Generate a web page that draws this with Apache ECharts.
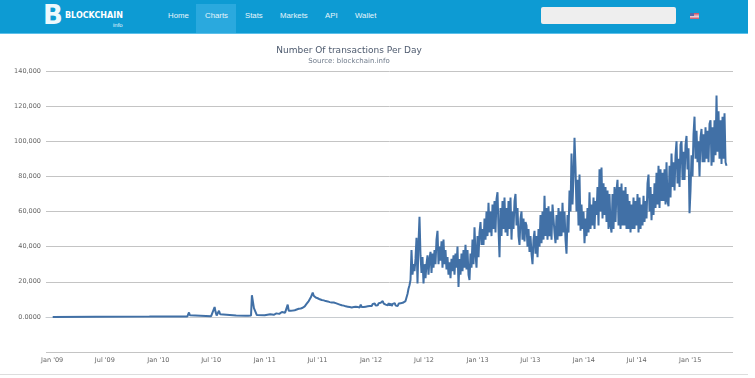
<!DOCTYPE html>
<html>
<head>
<meta charset="utf-8">
<title>Number Of transactions Per Day</title>
<script src="https://cdn.jsdelivr.net/npm/echarts@6/dist/echarts.min.js"></script>
<style>
  html, body { margin: 0; padding: 0; background: #fff; overflow: hidden; }
  #nav { position: absolute; left: 0; top: 0; width: 748px; height: 33px; background: #0d9bd3; border-bottom: 1px solid #5cc0ea; font-family: "Liberation Sans", Arial, sans-serif; color: #e8f5fb; font-size: 7.8px; z-index: 2; }
  #nav span { position: absolute; top: 11px; line-height: 10px; }
  #nav .active { position: absolute; left: 196px; top: 4px; width: 40px; height: 29px; background: #2aa9de; }
  #nav #logoB { left: 43px; top: 2px; font: bold 26px/26px "DejaVu Sans", sans-serif; color: #eef8fc; }
  #nav #logoText { left: 65px; font: bold 8px/10px "DejaVu Sans", sans-serif; color: #fff; }
  #nav #logoInfo { left: 113px; top: 20px; font-size: 6px; }
  #search { position: absolute; left: 541px; top: 7px; width: 135px; height: 17px; background: #eeeeee; border-radius: 2px; }
  #flag { position: absolute; left: 690px; top: 13px; width: 9px; height: 6px; background: linear-gradient(#c8475a, #e8d0d8 60%, #c8475a); }
  #flagCanton { position: absolute; left: 690px; top: 13px; width: 4px; height: 3px; background: #5a68a8; }
  #footLine { position: absolute; left: 0; top: 374px; width: 748px; height: 1px; background: #dddddd; }
  #main { position: absolute; left: 0; top: 0; width: 755px; height: 378px; }
</style>
</head>
<body>
<div id="main"></div>
<div id="nav">
  <div class="active"></div>
  <span id="logoB">B</span>
  <span id="logoText">BLOCKCHAIN</span>
  <span id="logoInfo">info</span>
  <span style="left:168px">Home</span>
  <span style="left:205px">Charts</span>
  <span style="left:245px">Stats</span>
  <span style="left:280px">Markets</span>
  <span style="left:325px">API</span>
  <span style="left:355px">Wallet</span>
  <div id="search"></div>
  <div id="flag"></div>
  <div id="flagCanton"></div>
</div>
<div id="footLine"></div>
<script>
// x axis labels
const tickDates = ['2009-01-01', '2009-07-01', '2010-01-01', '2010-07-01', '2011-01-01', '2011-07-01', '2012-01-01',
  '2012-07-01', '2013-01-01', '2013-07-01', '2014-01-01', '2014-07-01', '2015-01-01'];
const tickLabels = ["Jan '09", "Jul '09", "Jan '10", "Jul '10", "Jan '11", "Jul '11", "Jan '12",
  "Jul '12", "Jan '13", "Jul '13", "Jan '14", "Jul '14", "Jan '15"];

// early years, read point by point (transactions)
const earlyDates = ['2009-01-03', '2009-06-01', '2009-12-01', '2010-04-10', '2010-04-16', '2010-04-19', '2010-04-22',
  '2010-07-01', '2010-07-13', '2010-07-16', '2010-07-20', '2010-07-28', '2010-08-01', '2010-08-05', '2010-09-25',
  '2010-09-28', '2010-10-01', '2010-10-28', '2010-11-01', '2010-11-05', '2010-11-15', '2010-11-18', '2010-11-22',
  '2010-11-25', '2010-11-29', '2010-12-05', '2011-01-01', '2011-01-20', '2011-02-01', '2011-02-10', '2011-02-20',
  '2011-03-01', '2011-03-12', '2011-03-18'];
const earlyValues = [0, 100, 150, 200, 2500, 900, 300,
  400, 5600, 3000, 800, 3500, 1500, 800, 800,
  1600, 700, 600, 1200, 600, 800, 12300, 12000,
  5000, 4000, 1000, 900, 1500, 1200, 2000, 1700,
  2800, 2400, 3500];

// 2011 to takeoff, in thousands, one reading every stepDays
const midStart = '2011-03-21';
const midValuesK = [7, 3.5, 3, 3.5, 2.8, 3.6, 3, 3.8, 3.2, 4.2, 3.6, 4.6, 3.8, 4.8, 4.2, 5.2, 4.8, 6, 5.5, 7.5,
  7, 9, 9, 11, 12, 13.8, 12, 12.6, 11, 12, 10.6, 11.2, 10, 10.8, 9.6, 10.4, 9.4, 10.2, 9, 9.8,
  8.8, 9.6, 8.4, 9.4, 8.2, 9, 8.2, 9, 7.8, 8.8, 7.4, 8.2, 7, 7.8, 6.6, 7.4, 6.4, 7.2, 6, 7,
  5.8, 6.8, 5.6, 6.6, 5.4, 6.4, 5.6, 6.6, 5.8, 6.8, 5.6, 6.4, 5.4, 7, 5.6, 6.4, 5.6, 6.6, 5.8, 6.8,
  6, 7, 6.2, 7.2, 6.2, 7.4, 6.6, 7.6, 6.4, 7.4, 6.6, 7.8, 6.8, 8, 7, 9, 7.6, 8.6, 7, 8,
  6.6, 7.8, 6.4, 7.6, 6.2, 7.4, 6.6, 7.8, 6.4, 7.4, 6.2, 7.6, 6.6, 7.8, 6.8, 8, 7];

// takeoff onward, the series swings hard from weekdays to weekends
const denseStart = '2012-04-25';
const denseValuesK = [7.5, 9, 11, 13, 16, 18, 21, 38, 24, 30, 26, 33, 45, 19, 42, 57, 35, 25, 34, 19,
  30, 22, 30, 35, 24, 33, 37, 25, 36, 28, 38, 30, 44, 49, 30, 40, 32, 43, 28, 44,
  30, 38, 27, 34, 24, 31, 22, 33, 26, 35, 24, 36, 28, 40, 17, 33, 24, 36, 26, 38,
  28, 41, 27, 38, 24, 21, 36, 28, 44, 30, 51, 36, 28, 46, 34, 48, 54, 41, 50, 41,
  56, 44, 60, 46, 65, 48, 60, 46, 64, 50, 66, 48, 67, 71, 50, 34, 62, 46, 66, 50,
  68, 48, 62, 46, 66, 50, 68, 44, 60, 50, 66, 70, 52, 62, 46, 41, 56, 60, 44, 56,
  43, 54,
  52, 40, 50, 37, 46, 36, 30, 44, 49, 36,
  46, 34, 50, 40, 58, 42, 60, 44, 69, 46,
  62, 44, 63, 46, 60, 44, 64, 65, 48, 42,
  58, 44, 62, 46, 60, 46, 65, 48, 60, 44,
  36, 58, 48, 72, 60, 93, 64, 80, 102, 85,
  60, 78, 52, 81, 49, 64, 50, 60, 42, 56,
  46, 62, 48, 71, 50, 64, 52, 68, 50, 66,
  58, 74, 52, 84, 60, 85, 56, 76, 58, 74,
  54, 72, 50, 70, 52, 48, 70, 50, 74, 54,
  72, 78, 52, 74, 50, 76, 52, 72, 52, 74,
  50, 70, 50, 66, 48, 64, 50, 68, 50, 66,
  52, 70, 48, 68, 50, 64, 52, 69, 54, 66,
  56, 76, 81, 60, 74, 55, 70, 58, 76, 62,
  82, 64, 86, 62, 84, 66, 82, 66, 84, 64,
  88, 66, 63, 86, 68, 93, 74, 88, 72, 92,
  100, 76, 90, 74, 98, 100, 78, 94, 78, 98,
  103, 84, 96, 59, 72, 92, 80, 104, 114, 90,
  106, 88, 100, 80, 102, 107, 88, 104, 88, 108,
  90, 106, 88, 110, 112, 86, 108, 88, 112, 92,
  126, 94, 117, 90, 112, 87, 114, 90, 116, 88, 86];

const stepDays = 3.434;
const yMin = -20000;
const yMax = 140000;
const yStep = 20000;

const dayMs = 86400000;
const stepped = (start, valuesK) => valuesK.map((v, i) => [new Date(start).getTime() + i * stepDays * dayMs, v * 1000]);
const seriesData = earlyDates.map((d, i) => [new Date(d).getTime(), earlyValues[i]])
  .concat(stepped(midStart, midValuesK), stepped(denseStart, denseValuesK));
const tickTimes = tickDates.map(d => new Date(d).getTime());

const myChart = echarts.init(document.getElementById('main'), null, { renderer: 'canvas' });
const option = {
  backgroundColor: '#fff',
  animation: false,
  title: {
    text: 'Number Of transactions Per Day',
    subtext: 'Source: blockchain.info',
    left: 344,
    top: 40,
    textAlign: 'center',
    itemGap: 1,
    textStyle: { fontFamily: 'DejaVu Sans', fontSize: 9, fontWeight: 'normal', color: '#4d5a6e', lineHeight: 11 },
    subtextStyle: { fontFamily: 'DejaVu Sans', fontSize: 7, color: '#6e7a8a', lineHeight: 9 }
  },
  grid: { left: 46, right: 22, top: 71, bottom: 26 },
  xAxis: {
    // plain numeric axis over timestamps: customValues breaks on a time axis
    type: 'value',
    min: new Date('2008-12-11').getTime(),
    max: new Date('2015-05-28').getTime(),
    axisLine: { show: true, lineStyle: { color: '#c8ccd0', width: 1 } },
    axisTick: { show: false },
    splitLine: { show: false },
    axisLabel: {
      customValues: tickTimes,
      hideOverlap: false,
      margin: 5,
      fontFamily: 'DejaVu Sans',
      fontSize: 6.5,
      color: '#666',
      formatter: (value) => tickLabels[tickTimes.indexOf(value)] || ''
    }
  },
  yAxis: {
    type: 'value',
    min: yMin,
    max: yMax,
    interval: yStep,
    axisLine: { show: false },
    axisTick: { show: false },
    splitLine: { lineStyle: { color: '#c4c4c4', width: 1 } },
    axisLabel: {
      margin: 5,
      fontFamily: 'DejaVu Sans',
      fontSize: 6.5,
      color: '#666',
      formatter: (value) => {
        if (value === 0) return '0.0000';
        if (value < 0) return '';
        return value.toLocaleString('en-US');
      }
    }
  },
  series: [{
    type: 'line',
    data: seriesData,
    showSymbol: false,
    sampling: false,
    lineStyle: { color: '#4170a6', width: 2 }
  }]
};
myChart.setOption(option);
</script>
</body>
</html>
